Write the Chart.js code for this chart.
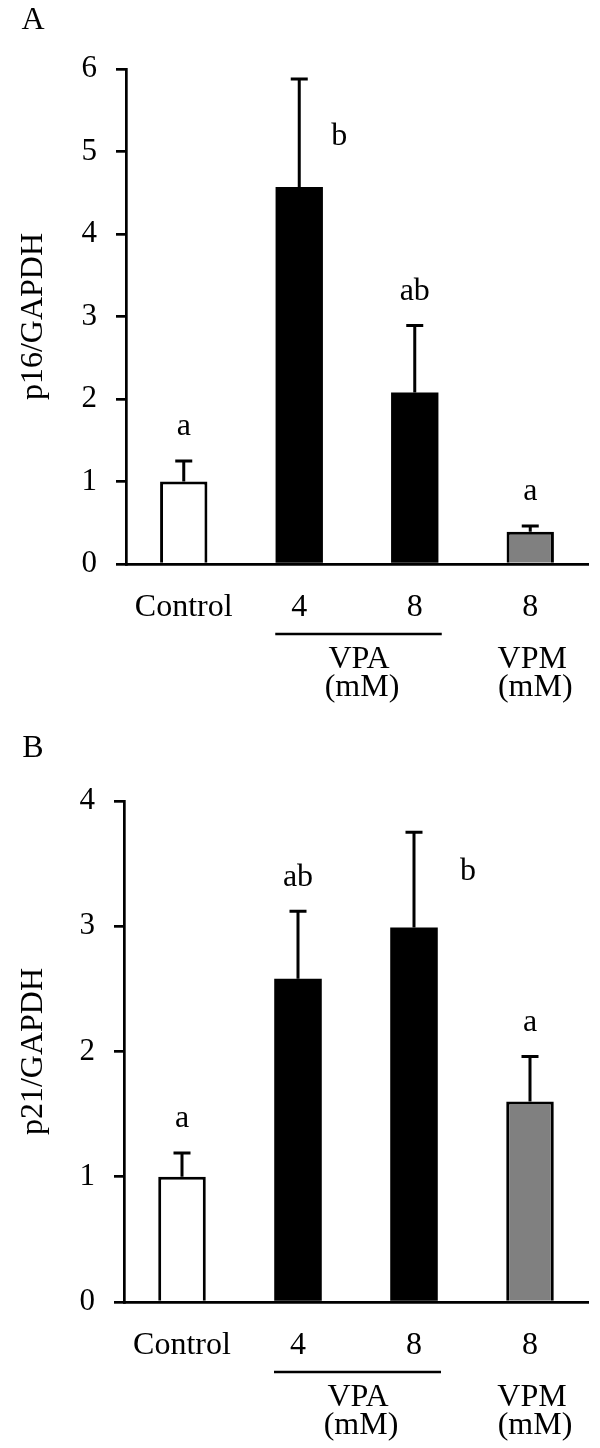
<!DOCTYPE html>
<html>
<head>
<meta charset="utf-8">
<script src="https://cdn.jsdelivr.net/npm/chart.js@4.4.1/dist/chart.umd.min.js"></script>
<style>
  body { margin: 0; background: #fff; }
  .panel { position: relative; width: 600px; height: 724px; }
</style>
</head>
<body>
<div class="panel"><canvas id="chartA" width="600" height="724"></canvas></div>
<div class="panel"><canvas id="chartB" width="600" height="724"></canvas></div>
<script>
// data
const categories = ['Control', '4', '8', '8'];
const barColors = ['#ffffff', '#000000', '#000000', '#808080'];
const groups = [
  { label: 'VPA', unit: '(mM)', from: 1, to: 2 },
  { label: 'VPM', unit: '(mM)', from: 3, to: 3 }
];

const p16Values = [1.00, 4.57, 2.08, 0.39];
const p16Errors = [0.25, 1.31, 0.81, 0.07];
const p16Letters = ['a', 'b', 'ab', 'a'];
const p16Max = 6;

const p21Values = [1.00, 2.58, 2.99, 1.60];
const p21Errors = [0.19, 0.54, 0.76, 0.36];
const p21Letters = ['a', 'ab', 'b', 'a'];
const p21Max = 4;

const FONT = "'Liberation Serif', 'Times New Roman', serif";

const annotate = {
  id: 'annotate',
  afterDatasetsDraw(chart, args, opts) {
    const ctx = chart.ctx;
    const y = chart.scales.y;
    const x = chart.scales.x;
    const bars = chart.getDatasetMeta(0).data;
    const vals = chart.data.datasets[0].data;

    ctx.save();
    ctx.strokeStyle = '#000';
    ctx.lineWidth = 3;
    bars.forEach((bar, i) => {
      const top = y.getPixelForValue(vals[i] + opts.errors[i]);
      ctx.beginPath();
      ctx.moveTo(bar.x, bar.y);
      ctx.lineTo(bar.x, top);
      ctx.moveTo(bar.x - 8.5, top);
      ctx.lineTo(bar.x + 8.5, top);
      ctx.stroke();
    });

    // significance letters
    ctx.fillStyle = '#000';
    ctx.font = `32px ${FONT}`;
    ctx.textAlign = 'center';
    ctx.textBaseline = 'middle';
    bars.forEach((bar, i) => {
      if (i === opts.side.index) {
        const mid = y.getPixelForValue(vals[i] + opts.errors[i] / 2);
        ctx.fillText(opts.letters[i], bar.x + opts.side.dx, mid + opts.side.dy);
      } else {
        const top = y.getPixelForValue(vals[i] + opts.errors[i]);
        ctx.fillText(opts.letters[i], bar.x, top - 34);
      }
    });

    // group labels under the axis
    const base = y.getPixelForValue(0);
    ctx.lineWidth = 2.7;
    groups.forEach(g => {
      const x0 = x.getPixelForValue(g.from);
      const x1 = x.getPixelForValue(g.to);
      if (g.to > g.from) {
        ctx.beginPath();
        ctx.moveTo(x0 - 24, base + 70);
        ctx.lineTo(x1 + 27, base + 70);
        ctx.stroke();
      }
      const cx = (x0 + x1) / 2 + 2;
      ctx.fillText(g.label, cx, base + 96);
      ctx.fillText(g.unit, cx + 3, base + 124);
    });

    // panel letter
    ctx.fillText(opts.panel, opts.panelX, opts.panelY);
    ctx.restore();
  }
};

function makeChart(id, values, errors, letters, max, title, panel, side, layout) {
  return new Chart(document.getElementById(id), {
    type: 'bar',
    data: {
      labels: categories,
      datasets: [{
        data: values,
        backgroundColor: barColors,
        borderColor: '#000',
        borderWidth: barColors.map(c => c === '#000000' ? 0 : 3),
        borderSkipped: 'bottom',
        barPercentage: 0.41,
        categoryPercentage: 1
      }]
    },
    options: {
      responsive: false,
      animation: false,
      layout: { padding: { top: layout.top, right: 12, bottom: 0, left: 0 } },
      plugins: {
        legend: { display: false },
        tooltip: { enabled: false },
        annotate: { errors: errors, letters: letters, side: side, panel: panel, panelX: 33, panelY: layout.panelY }
      },
      scales: {
        x: {
          afterFit: s => { s.height = layout.bottom; },
          grid: { display: false, drawTicks: false },
          border: { display: true, color: '#000', width: 2.7 },
          ticks: { color: '#000', font: { family: FONT, size: 32 }, padding: 24, maxRotation: 0, autoSkip: false }
        },
        y: {
          min: 0,
          max: max,
          afterFit: s => { s.width = layout.left; },
          grid: { drawOnChartArea: false, drawTicks: true, tickLength: 10, color: '#000', lineWidth: 2.7 },
          border: { display: true, color: '#000', width: 2.7 },
          ticks: { stepSize: 1, color: '#000', font: { family: FONT, size: 31 }, padding: 19 },
          title: { display: true, text: title, color: '#000', font: { family: FONT, size: 32, weight: 'normal' }, padding: { top: 14, bottom: 0 } }
        }
      }
    },
    plugins: [annotate]
  });
}

makeChart('chartA', p16Values, p16Errors, p16Letters, p16Max, 'p16/GAPDH', 'A',
  { index: 1, dx: 40, dy: 4 }, { top: 69, bottom: 160, left: 126, panelY: 21 });
makeChart('chartB', p21Values, p21Errors, p21Letters, p21Max, 'p21/GAPDH', 'B',
  { index: 2, dx: 54, dy: -8 }, { top: 77, bottom: 146, left: 124, panelY: 25 });
</script>
</body>
</html>
